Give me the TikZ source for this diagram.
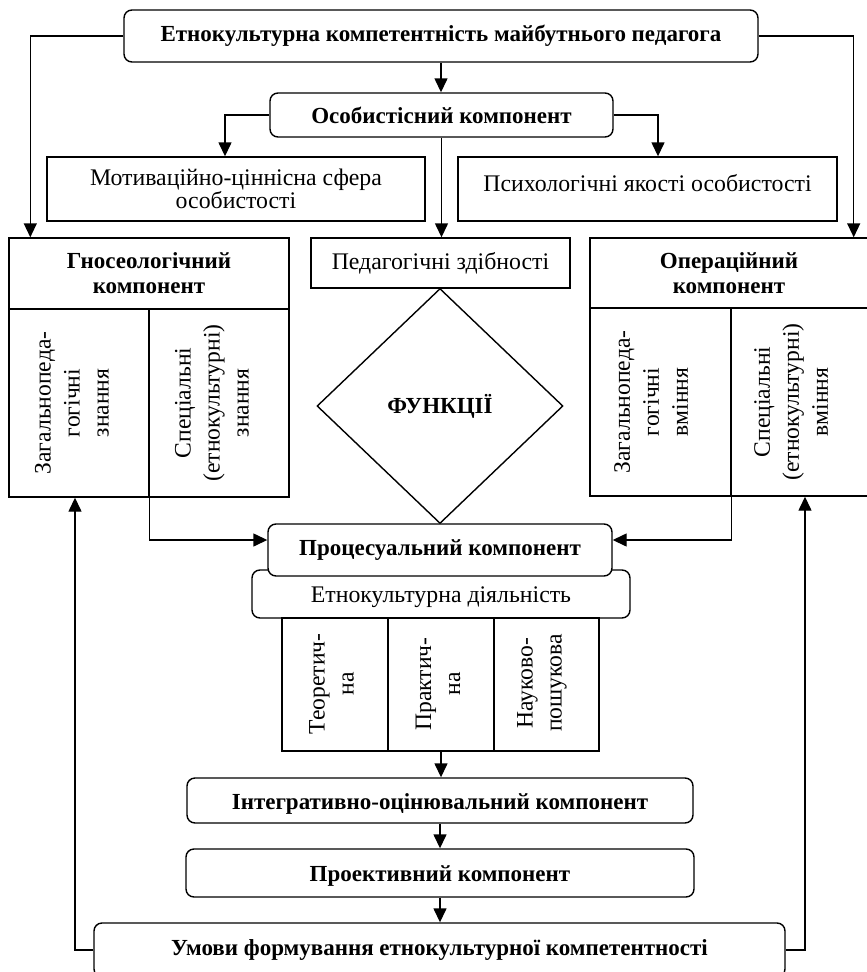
\documentclass[tikz,border=0pt]{standalone}
\usepackage{fontspec}
\setmainfont{Liberation Serif}
\usetikzlibrary{arrows.meta,shapes.geometric}
\tikzset{
  lw/.style={line width=1.4pt},
  rbox/.style={draw, lw, rounded corners=8pt, fill=white, inner sep=0pt, align=center},
  sbox/.style={draw, lw, inner sep=0pt, align=center},
  arr/.style={lw, -{Triangle[length=14pt,width=13pt]}},
  bft/.style={font=\fontsize{23}{25}\selectfont\bfseries},
  rgt/.style={font=\fontsize{23.8}{23}\selectfont},
  rot/.style={rotate=90, align=center, inner sep=0pt, font=\fontsize{23.6}{29}\selectfont},
}
\begin{document}
\begin{tikzpicture}[x=1pt,y=-1pt]
\useasboundingbox (0,0) rectangle (867,972);
% top
\node[rbox, bft, minimum width=634, minimum height=52] (top) at (441,36) {Етнокультурна компетентність майбутнього педагога};
\node[rbox, bft, minimum width=343, minimum height=44] (osob) at (441.5,115) {Особистісний компонент};
\node[sbox, rgt, minimum width=378, minimum height=64] (motiv) at (236,189) {Мотиваційно-ціннісна сфера\\особистості};
\node[sbox, minimum width=379, minimum height=64] (psych) at (647.5,189) {};
\node[rgt, inner sep=0pt] (psycht) at (647.5,183) {Психологічні якості особистості};
% gnoseological
\node[sbox, bft, minimum width=280, minimum height=71] (gnosh) at (149,273.5) {Гносеологічний\\компонент};
\node[sbox, minimum width=140, minimum height=188] (gnosa) at (79,403) {};
\node[sbox, minimum width=140, minimum height=188] (gnosb) at (219,403) {};
\node[rot] (gnosat) at (72,403) {Загальнопеда-\\гогічні\\знання};
\node[rot] (gnosbt) at (212,403) {Спеціальні\\(етнокультурні)\\знання};
% operational
\node[sbox, bft, minimum width=278, minimum height=70] (operh) at (729,273) {Операційний\\компонент};
\node[sbox, minimum width=141, minimum height=188] (opera) at (660.5,402) {};
\node[sbox, minimum width=137, minimum height=188] (operb) at (799.5,402) {};
\node[rot] (operat) at (651,402) {Загальнопеда-\\гогічні\\вміння};
\node[rot] (operbt) at (791,402) {Спеціальні\\(етнокультурні)\\вміння};
% centre
\node[sbox, rgt, minimum width=259, minimum height=50] (ped) at (440.5,263) {Педагогічні здібності};
\node[draw, lw, diamond, minimum width=246, minimum height=235, inner sep=0pt, bft] (func) at (440,406) {ФУНКЦІЇ};
% process
\node[rbox, rgt, minimum width=378, minimum height=48] (ethno) at (441,594) {};
\node[rgt, inner sep=0pt] (ethnot) at (441,597) {Етнокультурна діяльність};
\node[rbox, bft, minimum width=344, minimum height=52] (proc) at (440,550) {Процесуальний компонент};
\node[sbox, minimum width=106, minimum height=133] (colA) at (335,684.5) {};
\node[sbox, minimum width=106, minimum height=133] (colB) at (441,684.5) {};
\node[sbox, minimum width=105, minimum height=133] (colC) at (546.5,684.5) {};
\node[rot] (colAt) at (331.5,684) {Теоретич-\\на};
\node[rot] (colBt) at (438,684) {Практич-\\на};
\node[rot] (colCt) at (542,683) {Науково-\\пошукова};
% bottom
\node[rbox, minimum width=506, minimum height=45] (integr) at (440,800.5) {};
\node[bft, inner sep=0pt] (integrt) at (440,804) {Інтегративно-оцінювальний компонент};
\node[rbox, minimum width=508, minimum height=48] (proekt) at (440,873) {};
\node[bft, inner sep=0pt] (proektt) at (440,876) {Проективний компонент};
\node[rbox, bft, minimum width=691, minimum height=54] (umovy) at (439.5,950) {Умови формування етнокультурної компетентності};
% connectors
\draw[arr] (top.south) -- (top.south |- osob.north);
\draw[arr] (top.west) -| ([xshift=22pt]gnosh.north west);
\draw[arr] (top.east) -| ([xshift=-15pt]operh.north east);
\draw[arr] (osob.west) -| ([xshift=-11pt]motiv.north);
\draw[arr] (osob.east) -| ([xshift=10.5pt]psych.north);
\draw[arr] (osob.south) -- (osob.south |- ped.north);
\draw[arr] (gnosa.south east) |- ([yshift=10pt]proc.west);
\draw[arr] (opera.south east) |- ([yshift=10pt]proc.east);
\draw[arr] (colB.south) -- (colB.south |- integr.north);
\draw[arr] (integr.south) -- (proekt.north);
\draw[arr] (proekt.south) -- (proekt.south |- umovy.north);
\draw[arr] (umovy.west) -| ([xshift=-4pt]gnosa.south);
\draw[arr] (umovy.east) -| ([xshift=5.5pt]operb.south);
\end{tikzpicture}
\end{document}
